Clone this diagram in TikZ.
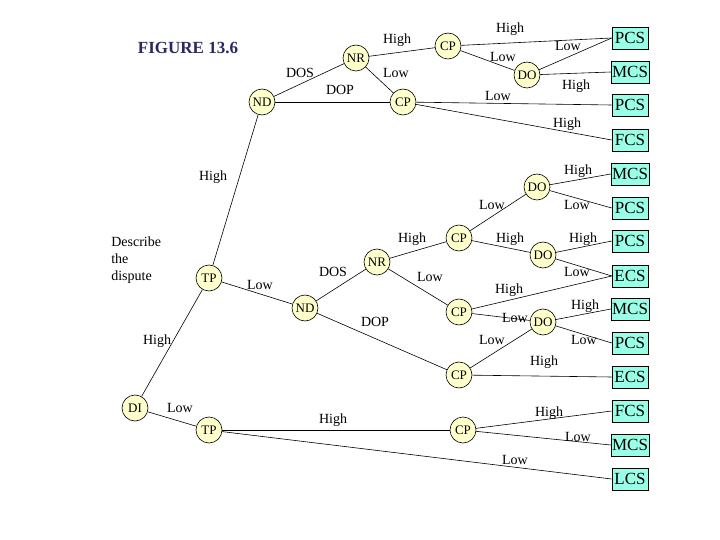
\documentclass[tikz,border=0pt]{standalone}
\usepackage{fontspec}
\setmainfont{Liberation Serif}
\begin{document}
\begin{tikzpicture}[x=1pt,y=-1pt,
  dn/.style={circle,draw,fill={rgb,255:red,255;green,255;blue,204},minimum size=26pt,inner sep=0pt,font=\fontsize{13}{13}\selectfont},
  cs/.style={rectangle,draw,fill={rgb,255:red,153;green,255;blue,230},minimum width=36pt,minimum height=22pt,inner sep=1pt,font=\fontsize{17}{17}\selectfont},
  lb/.style={font=\fontsize{14}{14}\selectfont,inner sep=0pt},
  every path/.style={line width=0.6pt}]
\useasboundingbox (0,0) rectangle (720,540);
\node[font=\fontsize{17}{17}\selectfont\bfseries,text={rgb,255:red,40;green,40;blue,100}] (fig) at (188,48) {FIGURE 13.6};
\node[lb,align=left,anchor=north west,font=\fontsize{14}{17}\selectfont] (desc) at (111,236) {Describe\\the\\dispute};
% decision nodes
\node[dn] (DI) at (135,408) {DI};
\node[dn] (TPh) at (209,278) {TP};
\node[dn] (TPl) at (209,430) {TP};
\node[dn] (ND1) at (262,102) {ND};
\node[dn] (NR1) at (356,58) {NR};
\node[dn] (CP1) at (448,46) {CP};
\node[dn] (CP2) at (403,102) {CP};
\node[dn] (DO1) at (527,75) {DO};
\node[dn] (DO4) at (537,187) {DO};
\node[dn] (ND2) at (305,308) {ND};
\node[dn] (NR2) at (377,262) {NR};
\node[dn] (CP3) at (459,238) {CP};
\node[dn] (CP4) at (459,312) {CP};
\node[dn] (CP5) at (459,375) {CP};
\node[dn] (DO2) at (543,255) {DO};
\node[dn] (DO3) at (543,322) {DO};
\node[dn] (CP6) at (463,430) {CP};
% outcomes
\node[cs] (b1) at (630,38) {PCS};
\node[cs] (b2) at (630,72) {MCS};
\node[cs] (b3) at (630,105) {PCS};
\node[cs] (b4) at (630,140) {FCS};
\node[cs] (b5) at (630,174) {MCS};
\node[cs] (b6) at (630,208) {PCS};
\node[cs] (b7) at (630,241) {PCS};
\node[cs] (b8) at (630,276) {ECS};
\node[cs] (b9) at (630,309) {MCS};
\node[cs] (b10) at (630,343) {PCS};
\node[cs] (b11) at (630,377) {ECS};
\node[cs] (b12) at (630,411) {FCS};
\node[cs] (b13) at (630,445) {MCS};
\node[cs] (b14) at (630,479) {LCS};
% edges
\draw (DI) -- (TPh); \draw (DI) -- (TPl);
\draw (TPh) -- (ND1); \draw (TPh) -- (ND2);
\draw (ND1) -- (NR1); \draw (ND1) -- (CP2);
\draw (NR1) -- (CP1); \draw (NR1) -- (CP2);
\draw (CP1) -- (b1.west); \draw (CP1) -- (DO1);
\draw (DO1) -- (b1.west); \draw (DO1) -- (b2.west);
\draw (CP2) -- (b3.west); \draw (CP2) -- (b4.west);
\draw (CP3) -- (DO4);
\draw (DO4) -- (b5.west); \draw (DO4) -- (b6.west);
\draw (ND2) -- (NR2); \draw (ND2) -- (CP5);
\draw (NR2) -- (CP3); \draw (NR2) -- (CP4);
\draw (CP3) -- (DO2);
\draw (DO2) -- (b7.west); \draw (DO2) -- (b8.west);
\draw (CP4) -- (b8.west); \draw (CP4) -- (DO3);
\draw (DO3) -- (b9.west); \draw (DO3) -- (b10.west);
\draw (CP5) -- (DO3); \draw (CP5) -- (b11.west);
\draw (TPl) -- (CP6);
\draw (CP6) -- (b12.west); \draw (CP6) -- (b13.west);
\draw (TPl) -- (b14.west);
% labels
\node[lb] (l1) at (157,341) {High};
\node[lb] (l2) at (180,408) {Low};
\node[lb] (l3) at (213,177) {High};
\node[lb] (l4) at (260,285) {Low};
\node[lb] (l5) at (300,73) {DOS};
\node[lb] (l6) at (340,90) {DOP};
\node[lb] (l7) at (397,40) {High};
\node[lb] (l8) at (396,73) {Low};
\node[lb] (l9) at (510,29) {High};
\node[lb] (l10) at (503,57) {Low};
\node[lb] (l11) at (568,46) {Low};
\node[lb] (l12) at (576,86) {High};
\node[lb] (l13) at (498,96) {Low};
\node[lb] (l14) at (567,124) {High};
\node[lb] (l15) at (578,171) {High};
\node[lb] (l16) at (577,205) {Low};
\node[lb] (l17) at (492,205) {Low};
\node[lb] (l18) at (333,272) {DOS};
\node[lb] (l19) at (375,322) {DOP};
\node[lb] (l20) at (412,239) {High};
\node[lb] (l21) at (430,277) {Low};
\node[lb] (l22) at (510,239) {High};
\node[lb] (l23) at (583,239) {High};
\node[lb] (l24) at (577,272) {Low};
\node[lb] (l25) at (509,290) {High};
\node[lb] (l26) at (515,318) {Low};
\node[lb] (l27) at (585,306) {High};
\node[lb] (l28) at (584,340) {Low};
\node[lb] (l29) at (492,340) {Low};
\node[lb] (l30) at (544,362) {High};
\node[lb] (l31) at (333,420) {High};
\node[lb] (l32) at (549,413) {High};
\node[lb] (l33) at (578,437) {Low};
\node[lb] (l34) at (515,460) {Low};
\end{tikzpicture}
\end{document}
